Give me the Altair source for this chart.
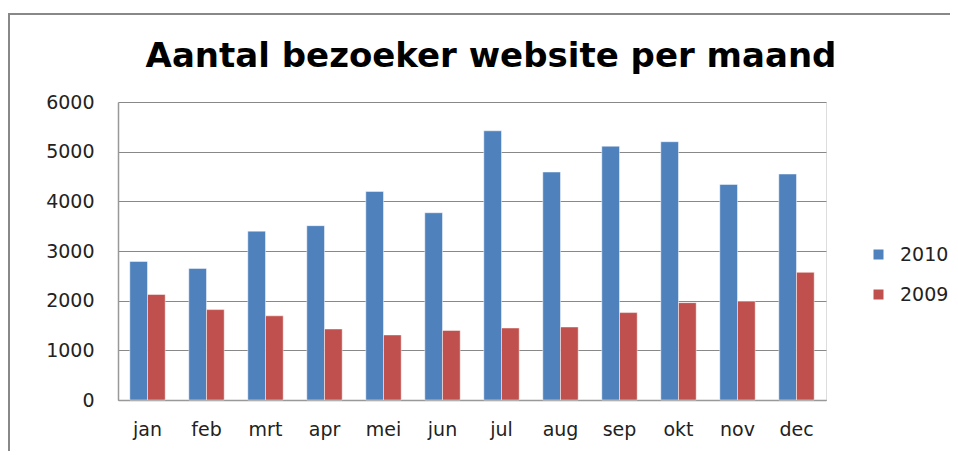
import altair as alt
import pandas as pd

months = ["jan", "feb", "mrt", "apr", "mei", "jun", "jul", "aug", "sep", "okt", "nov", "dec"]
series = ["2010", "2009"]
v2010 = [2790, 2650, 3400, 3510, 4200, 3770, 5420, 4590, 5110, 5200, 4340, 4550]
v2009 = [2125, 1820, 1695, 1430, 1310, 1400, 1450, 1470, 1760, 1960, 1990, 2570]
colors = ["#4F81BD", "#C0504D"]

rows = []
for m, a, b in zip(months, v2010, v2009):
    rows.append({"maand": m, "jaar": "2010", "bezoekers": a})
    rows.append({"maand": m, "jaar": "2009", "bezoekers": b})
df = pd.DataFrame(rows)

FONT = "DejaVu Sans"

bars = alt.Chart(df).mark_bar(stroke="#ffffff", strokeOpacity=0.6, strokeWidth=0.8).encode(
    x=alt.X("maand:N", sort=months, title=None,
            scale=alt.Scale(paddingInner=0.4, paddingOuter=0.2),
            axis=alt.Axis(labelAngle=0, ticks=False, labelPadding=20, labelFontSize=19,
                          labelFont=FONT, labelColor="#222", domainColor="#999",
                          domainWidth=1.5, grid=False)),
    xOffset=alt.XOffset("jaar:N", sort=series),
    y=alt.Y("bezoekers:Q", title=None,
            scale=alt.Scale(domain=[0, 6000], nice=False),
            axis=alt.Axis(values=[0, 1000, 2000, 3000, 4000, 5000, 6000], format="d",
                          ticks=False, labelPadding=24, labelFontSize=19, labelFont=FONT,
                          labelColor="#222", domainColor="#999", domainWidth=1.5,
                          gridColor="#888", gridWidth=1)),
    color=alt.Color("jaar:N", sort=series,
                    scale=alt.Scale(domain=series, range=colors),
                    legend=alt.Legend(title=None, orient="none", legendX=751, legendY=143,
                                      symbolType="square", symbolSize=100,
                                      symbolStrokeWidth=0, labelFontSize=19,
                                      labelFont=FONT, labelColor="#222",
                                      labelOffset=12, rowPadding=20)),
)

border = alt.Chart(pd.DataFrame({"a": [0]})).mark_rect(
    filled=False, stroke="#888888", strokeWidth=2
).encode(
    x=alt.value(-109), x2=alt.value(900), y=alt.value(-88), y2=alt.value(500)
)

chart = alt.layer(border, bars).properties(
    width=708, height=298,
    autosize=alt.AutoSizeParams(type="none"),
    padding={"top": 94, "left": 110, "right": 124, "bottom": 51},
    title=alt.TitleParams("Aantal bezoeker website per maand", fontSize=34, font=FONT,
                          fontWeight="bold", color="#000", anchor="middle", frame="group",
                          dx=19, offset=-61),
).configure_view(stroke=None).configure(background="white")

chart.save("out.html", embed_options={"renderer": "svg", "actions": False})
